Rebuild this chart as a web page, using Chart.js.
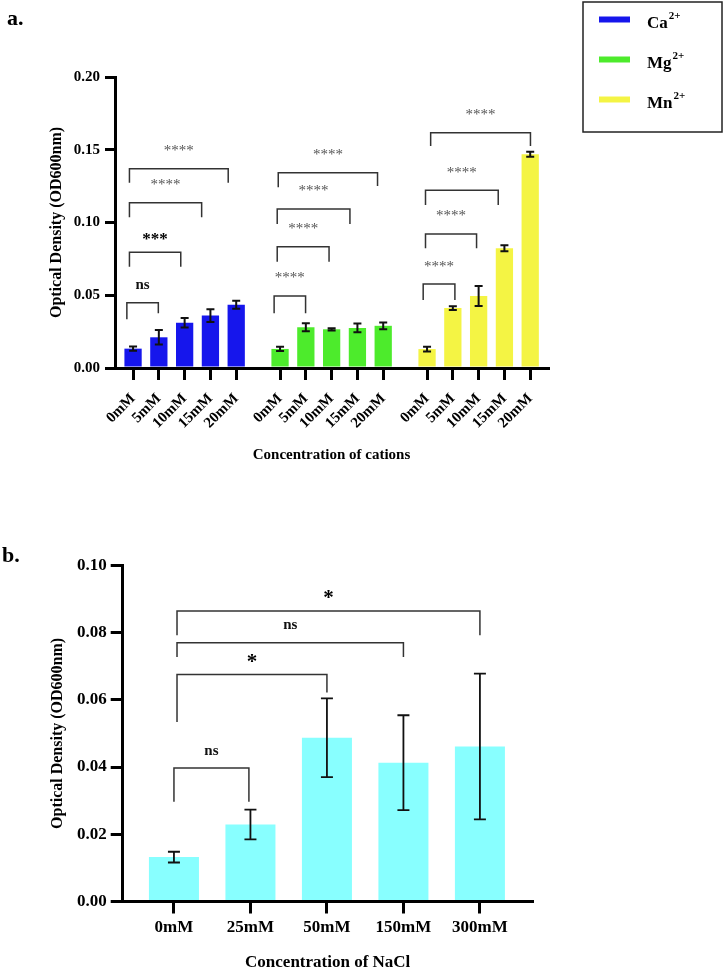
<!DOCTYPE html>
<html><head><meta charset="utf-8">
<script src="https://cdn.jsdelivr.net/npm/chart.js@4.4.0/dist/chart.umd.min.js"></script>
<style>
html,body{margin:0;padding:0;background:#fff;width:725px;height:971px;overflow:hidden}
canvas{position:absolute;left:0}
#c1{top:0}
#c2{top:490px}
</style></head><body>
<canvas id="c1" width="725" height="490"></canvas>
<canvas id="c2" width="725" height="481"></canvas>
<script>
// ---------- data : panel a ----------
const concLabels = ['0mM', '5mM', '10mM', '15mM', '20mM'];
const cations = ['Ca', 'Mg', 'Mn'];
const cationCharge = '2+';
const caValues = [0.0133, 0.0211, 0.0311, 0.0360, 0.0435];
const caErrors = [0.0015, 0.0050, 0.0032, 0.0043, 0.0028];
const mgValues = [0.0131, 0.0280, 0.0266, 0.0275, 0.0290];
const mgErrors = [0.0015, 0.0028, 0.0008, 0.0030, 0.0023];
const mnValues = [0.0130, 0.0412, 0.0495, 0.0823, 0.1469];
const mnErrors = [0.0016, 0.0013, 0.0069, 0.0020, 0.0017];
const yTicksA = [0, 0.05, 0.10, 0.15, 0.20];

// ---------- data : panel b ----------
const naclLabels = ['0mM', '25mM', '50mM', '150mM', '300mM'];
const naclValues = [0.0132, 0.0229, 0.0487, 0.0413, 0.0461];
const naclErrors = [0.0016, 0.0044, 0.0117, 0.0141, 0.0217];
const yTicksB = [0, 0.02, 0.04, 0.06, 0.08, 0.10];

// significance brackets: [xStart, xEnd, yTop, yLeftLegEnd, yRightLegEnd, label]
const bracketsA = [
  [-0.24, 0.98, 0.0449, 0.0335, 0.0376, 'ns'],
  [-0.14, 1.85, 0.0795, 0.0696, 0.0696, '***'],
  [-0.14, 2.66, 0.1136, 0.1036, 0.1036, '****'],
  [-0.14, 3.69, 0.1370, 0.1274, 0.1274, '****'],
  [5.47, 6.69, 0.0495, 0.0376, 0.0376, '****'],
  [5.59, 7.60, 0.0834, 0.0731, 0.0731, '****'],
  [5.59, 8.41, 0.1093, 0.0990, 0.0990, '****'],
  [5.63, 9.48, 0.1342, 0.1242, 0.1251, '****'],
  [11.25, 12.48, 0.0577, 0.0467, 0.0467, '****'],
  [11.34, 13.32, 0.0921, 0.0823, 0.0823, '****'],
  [11.34, 14.16, 0.1221, 0.1120, 0.1120, '****'],
  [11.54, 15.41, 0.1617, 0.1526, 0.1526, '****']
];
const bracketsB = [
  [0.00, 0.98, 0.0397, 0.0297, 0.0297, 'ns'],
  [0.04, 2.00, 0.0675, 0.0534, 0.0622, '*'],
  [0.04, 3.00, 0.0770, 0.0727, 0.0727, 'ns'],
  [0.04, 4.00, 0.0864, 0.0792, 0.0792, '*']
];

const SERIF = '"Liberation Serif", "Times New Roman", serif';
const colorsA = ['#1616EC', '#4DEB2C', '#F4F444'];
const colorB = '#88FFFF';

const labelStyles = {
  '****': {font: 'normal 15px ' + SERIF, color: '#555', offset: 20.5},
  '***': {font: 'bold 17px ' + SERIF, color: '#000', offset: 16},
  'ns': {font: 'bold 15px ' + SERIF, color: '#111', offset: 17},
  '*': {font: 'bold 21px ' + SERIF, color: '#000', offset: 17}
};

function errorBarPlugin(lineWidth, cap) {
  return {
    id: 'errorBars',
    afterDatasetsDraw(chart) {
      const ctx = chart.ctx, xs = chart.scales.x, ys = chart.scales.y;
      ctx.save();
      ctx.strokeStyle = '#111';
      ctx.lineWidth = lineWidth;
      chart.data.datasets.forEach(ds => {
        ds.data.forEach((p, i) => {
          const e = ds.errors[i];
          const x = xs.getPixelForValue(p.x);
          const y1 = ys.getPixelForValue(p.y + e), y2 = ys.getPixelForValue(p.y - e);
          ctx.beginPath();
          ctx.moveTo(x, y1); ctx.lineTo(x, y2);
          ctx.moveTo(x - cap, y1); ctx.lineTo(x + cap, y1);
          ctx.moveTo(x - cap, y2); ctx.lineTo(x + cap, y2);
          ctx.stroke();
        });
      });
      ctx.restore();
    }
  };
}

function bracketPlugin(items) {
  return {
    id: 'brackets',
    afterDatasetsDraw(chart) {
      const ctx = chart.ctx, xs = chart.scales.x, ys = chart.scales.y;
      ctx.save();
      items.forEach(b => {
        const [x1, x2, yt, yl, yr, text] = b;
        const X1 = xs.getPixelForValue(x1), X2 = xs.getPixelForValue(x2);
        const YT = ys.getPixelForValue(yt), YL = ys.getPixelForValue(yl), YR = ys.getPixelForValue(yr);
        ctx.strokeStyle = '#333';
        ctx.lineWidth = 1.5;
        ctx.beginPath();
        ctx.moveTo(X1, YL); ctx.lineTo(X1, YT); ctx.lineTo(X2, YT); ctx.lineTo(X2, YR);
        ctx.stroke();
        const st = labelStyles[text];
        ctx.font = st.font;
        ctx.fillStyle = st.color;
        ctx.textAlign = 'center';
        ctx.textBaseline = 'alphabetic';
        const m = ctx.measureText(text);
        const yc = YT - st.offset;
        ctx.fillText(text, (X1 + X2) / 2, yc + (m.actualBoundingBoxAscent - m.actualBoundingBoxDescent) / 2);
      });
      ctx.restore();
    }
  };
}

function panelLabelPlugin(text, x, y) {
  return {
    id: 'panelLabel',
    afterDraw(chart) {
      const ctx = chart.ctx;
      ctx.save();
      ctx.font = 'bold 22px ' + SERIF;
      ctx.fillStyle = '#000';
      ctx.textAlign = 'left';
      ctx.textBaseline = 'middle';
      ctx.fillText(text, x, y);
      ctx.restore();
    }
  };
}

const legendBoxPlugin = {
  id: 'legendBox',
  afterDraw(chart) {
    const ctx = chart.ctx;
    ctx.save();
    ctx.strokeStyle = '#222';
    ctx.lineWidth = 1.5;
    ctx.strokeRect(583, 2, 139, 130);
    chart.data.datasets.forEach((ds, i) => {
      const y = 19.5 + i * 40;
      ctx.strokeStyle = ds.backgroundColor;
      ctx.lineWidth = 6;
      ctx.beginPath();
      ctx.moveTo(599, y); ctx.lineTo(630, y);
      ctx.stroke();
      ctx.fillStyle = '#000';
      ctx.textAlign = 'left';
      ctx.textBaseline = 'alphabetic';
      ctx.font = 'bold 17px ' + SERIF;
      const base = cations[i];
      ctx.fillText(base, 647, y + 8);
      const w = ctx.measureText(base).width;
      ctx.font = 'bold 11px ' + SERIF;
      ctx.fillText(cationCharge, 647 + w + 1, y - 1);
    });
    ctx.restore();
  }
};

// ---------- panel a ----------
const groupStep = 5.7;
const pos = (g, i) => g * groupStep + i;
const valuesA = [caValues, mgValues, mnValues];
const errorsA = [caErrors, mgErrors, mnErrors];
const tickPosA = [];
valuesA.forEach((vals, g) => vals.forEach((v, i) => tickPosA.push(pos(g, i))));

const datasetsA = valuesA.map((vals, g) => ({
  label: cations[g] + cationCharge,
  data: vals.map((v, i) => ({x: pos(g, i), y: v})),
  errors: errorsA[g],
  backgroundColor: colorsA[g],
  borderWidth: 0,
  grouped: false,
  barPercentage: 0.67,
  categoryPercentage: 1
}));

const axisFont = (size) => ({family: SERIF, size: size, weight: 'bold'});

new Chart(document.getElementById('c1'), {
  type: 'bar',
  data: {datasets: datasetsA},
  options: {
    responsive: false,
    animation: false,
    devicePixelRatio: 1,
    layout: {padding: {left: 0, right: 177, top: 77, bottom: 0}},
    plugins: {legend: {display: false}, tooltip: {enabled: false}},
    scales: {
      x: {
        type: 'linear',
        offset: false,
        min: -0.7,
        max: 16.09,
        afterBuildTicks: s => { s.ticks = tickPosA.map(v => ({value: v})); },
        afterFit: s => { s.height = 122; },
        ticks: {
          autoSkip: false, minRotation: 45, maxRotation: 45,
          color: '#000', font: axisFont(15), padding: 10,
          callback: (v, i) => concLabels[i % concLabels.length]
        },
        grid: {offset: false, drawOnChartArea: false, drawTicks: true, tickLength: 12, lineWidth: 3, color: '#000'},
        border: {display: true, width: 3, color: '#000'},
        title: {display: true, text: 'Concentration of cations', color: '#000',
                font: axisFont(15), padding: {top: 0, bottom: 26}}
      },
      y: {
        min: 0,
        max: 0.2,
        afterBuildTicks: s => { s.ticks = yTicksA.map(v => ({value: v})); },
        afterFit: s => { s.width = 115; },
        ticks: {color: '#000', font: axisFont(15), padding: 5, callback: v => v.toFixed(2)},
        grid: {drawOnChartArea: false, drawTicks: true, tickLength: 10, lineWidth: 3, color: '#000'},
        border: {display: true, width: 3, color: '#000'},
        title: {display: true, text: 'Optical Density (OD600nm)', color: '#000',
                font: axisFont(16), padding: {top: 47, bottom: 0}}
      }
    }
  },
  plugins: [errorBarPlugin(2, 4), bracketPlugin(bracketsA), legendBoxPlugin, panelLabelPlugin('a.', 7, 19)]
});

// ---------- panel b ----------
const datasetsB = [{
  label: 'NaCl',
  data: naclValues.map((v, i) => ({x: i, y: v})),
  errors: naclErrors,
  backgroundColor: colorB,
  borderWidth: 0,
  grouped: false,
  barPercentage: 0.654,
  categoryPercentage: 1
}];

new Chart(document.getElementById('c2'), {
  type: 'bar',
  data: {datasets: datasetsB},
  options: {
    responsive: false,
    animation: false,
    devicePixelRatio: 1,
    layout: {padding: {left: 0, right: 192.3, top: 75.3, bottom: 0}},
    plugins: {legend: {display: false}, tooltip: {enabled: false}},
    scales: {
      x: {
        type: 'linear',
        offset: false,
        min: -0.67,
        max: 4.69,
        afterBuildTicks: s => { s.ticks = naclLabels.map((l, i) => ({value: i})); },
        afterFit: s => { s.height = 69.5; },
        ticks: {
          autoSkip: false, minRotation: 0, maxRotation: 0,
          color: '#000', font: axisFont(17), padding: 4,
          callback: (v, i) => naclLabels[i]
        },
        grid: {offset: false, drawOnChartArea: false, drawTicks: true, tickLength: 12, lineWidth: 3, color: '#000'},
        border: {display: true, width: 3, color: '#000'},
        title: {display: true, text: 'Concentration of NaCl', color: '#000',
                font: {family: SERIF, size: 17, weight: 'bold', lineHeight: 1}, padding: {top: 0, bottom: 0}}
      },
      y: {
        min: 0,
        max: 0.1,
        afterBuildTicks: s => { s.ticks = yTicksB.map(v => ({value: v})); },
        afterFit: s => { s.width = 122.7; },
        ticks: {color: '#000', font: axisFont(17), padding: 4, callback: v => v.toFixed(2)},
        grid: {drawOnChartArea: false, drawTicks: true, tickLength: 12, lineWidth: 3, color: '#000'},
        border: {display: true, width: 3, color: '#000'},
        title: {display: true, text: 'Optical Density (OD600nm)', color: '#000',
                font: axisFont(16), padding: {top: 48.7, bottom: 0}}
      }
    }
  },
  plugins: [errorBarPlugin(1.8, 6), bracketPlugin(bracketsB), panelLabelPlugin('b.', 2, 66)]
});
</script>
</body></html>
